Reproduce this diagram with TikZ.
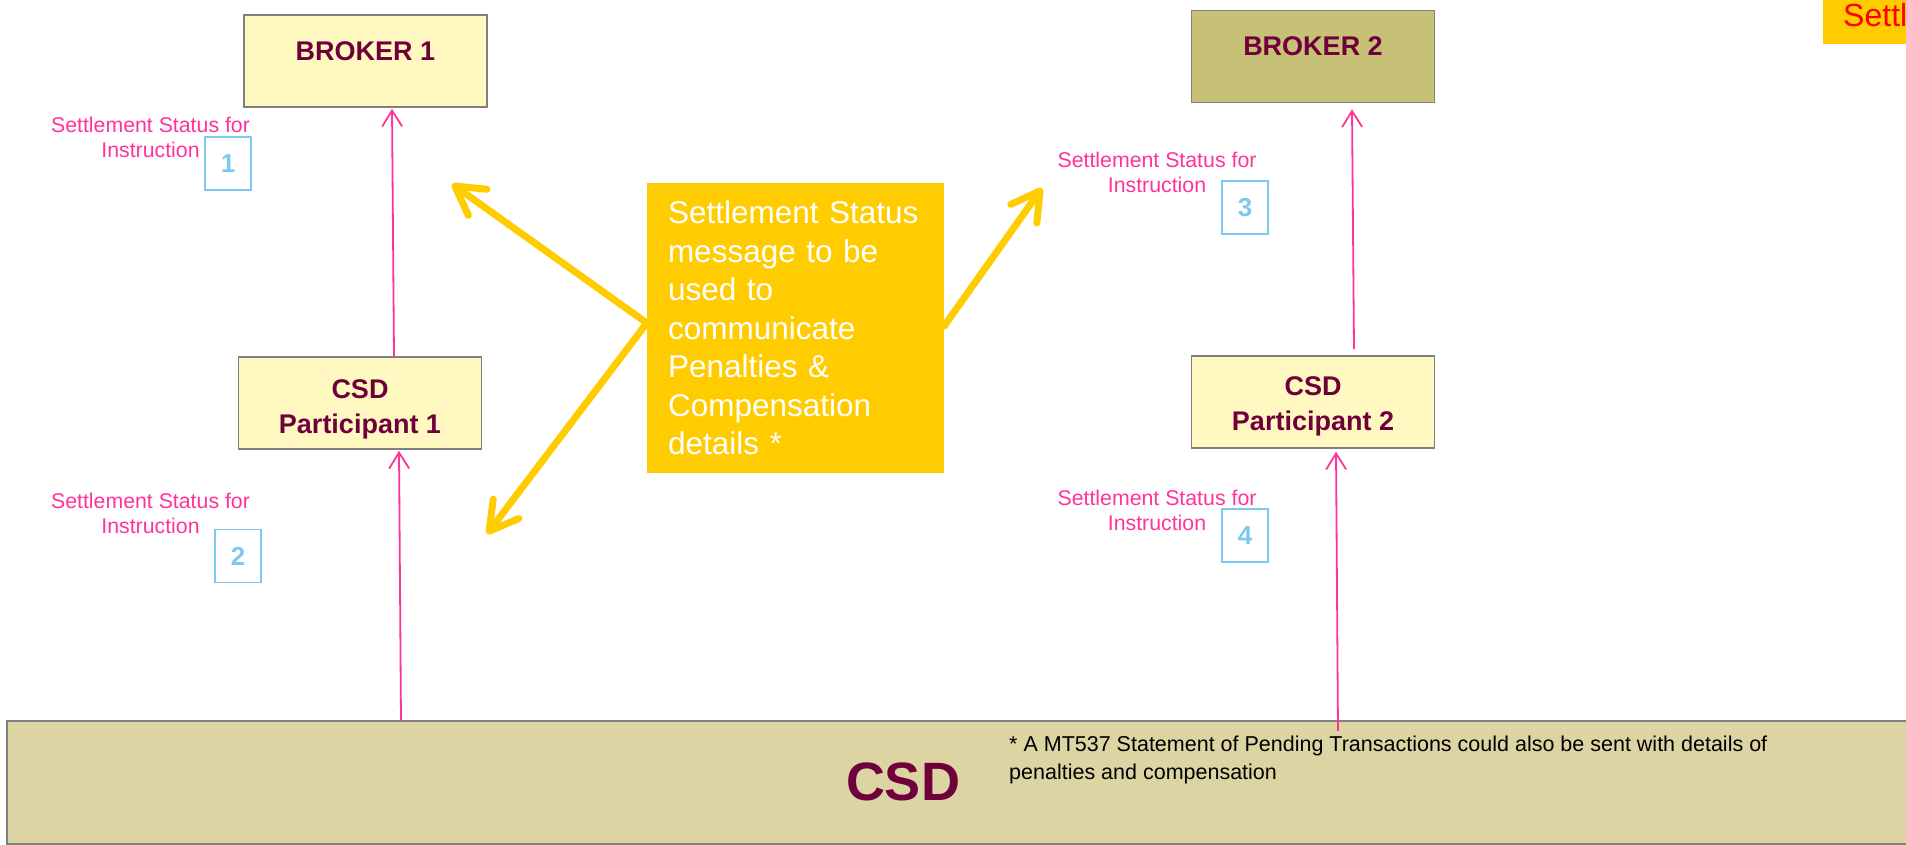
\documentclass[tikz,border=0pt]{standalone}
\usepackage{fontspec}
\setmainfont{Liberation Sans}
\usetikzlibrary{arrows.meta,calc}
\definecolor{paleyel}{HTML}{FFF8C0}
\definecolor{olivebox}{HTML}{C7C077}
\definecolor{csdfill}{HTML}{DCD5A3}
\definecolor{maroon}{HTML}{70003C}
\definecolor{hotpink}{HTML}{FF3399}
\definecolor{lblue}{HTML}{7DC8F0}
\definecolor{gold}{HTML}{FFCC00}
\definecolor{boxgray}{HTML}{808080}
\begin{document}
\begin{tikzpicture}[x=1pt,y=-1pt,
  entity/.style={draw=boxgray, line width=1.6pt, fill=paleyel, minimum width=243pt,
    minimum height=92pt, inner sep=0pt, text=maroon, font=\fontsize{27}{35}\selectfont\bfseries},
  numbox/.style={draw=lblue, line width=1.8pt, minimum width=46pt, minimum height=53pt,
    inner sep=0pt, text=lblue, font=\fontsize{26}{30}\selectfont\bfseries},
  statlbl/.style={text=hotpink, font=\fontsize{21.3}{25}\selectfont, align=center, inner sep=0pt},
  pinkarrow/.style={draw=hotpink, line width=1.8pt, -{Straight Barb[length=16pt,width=20pt]}},
  yelarrow/.style={draw=gold, line width=7pt, line cap=round,
    -{Straight Barb[length=28pt,width=32pt,line cap=round,line join=round]}}
]
\useasboundingbox (0,0) rectangle (1906,844);

% top-right partial banner
\node[fill=gold, minimum width=100pt, minimum height=44pt, anchor=north west, inner sep=0pt] (settl) at (1823,0) {};
\node[anchor=base west, text=red, font=\fontsize{32}{38}\selectfont, inner sep=0pt] (settltxt) at (1843,26) {Settl};

% CSD bar
\node[draw=boxgray, fill=csdfill, line width=2pt, minimum width=1914pt, minimum height=123pt,
  anchor=north west, inner sep=0pt] (csd) at (6,720) {};
\node[text=maroon, font=\fontsize{54}{60}\selectfont\bfseries, inner sep=0pt] (csdtxt) at (903,782) {CSD};
\node[anchor=north west, align=left, inner sep=0pt, font=\fontsize{21.5}{28}\selectfont] (foot) at (1009,736)
  {* A MT537 Statement of Pending Transactions could also be sent with details of\\penalties and compensation};

% entities
\node[entity, text height=20pt, text depth=22pt] (b1) at (365.5,61) {BROKER 1};
\node[entity, fill=olivebox, text height=20pt, text depth=23pt] (b2) at (1313,56.5) {BROKER 2};
\node[entity, align=center] (p1) at (360,403) {\rule{0pt}{32pt}CSD\\Participant 1};
\node[entity, align=center] (p2) at (1313,402) {\rule{0pt}{28pt}CSD\\Participant 2};

% status labels
\node[statlbl] (l1) at (150.5,137) {Settlement Status for\\Instruction};
\node[statlbl] (l2) at (150.5,513.5) {Settlement Status for\\Instruction};
\node[statlbl] (l3) at (1157,172) {Settlement Status for\\Instruction};
\node[statlbl] (l4) at (1157,510) {Settlement Status for\\Instruction};
\node[numbox] (n1) at (228,163.5) {1};
\node[numbox] (n2) at (238,556) {2};
\node[numbox] (n3) at (1245,207.5) {3};
\node[numbox] (n4) at (1245,535.5) {4};

% pink connectors
\draw[pinkarrow] ($(p1.north)+(34,0)$) -- ($(b1.south)+(26.5,1)$);
\draw[pinkarrow] ($(csd.north west)+(395,0)$) -- ($(p1.south)+(39,1)$);
\draw[pinkarrow] ($(p2.north)+(41,-6)$) -- ($(b2.south)+(39,6)$);
\draw[pinkarrow] ($(csd.north west)+(1332,11)$) -- ($(p2.south)+(23,3)$);

% central message box
\node[fill=gold, minimum width=297pt, minimum height=290pt, text width=255pt, inner xsep=21pt,
  inner ysep=0pt, align=left, text=white, font=\fontsize{31.5}{38.5}\selectfont] (msg) at (795.5,328)
  {Settlement Status\\message to be\\used to\\communicate\\Penalties \&\\Compensation\\details *};

\coordinate (t1) at (452,184);
\coordinate (t2) at (487,534);
\coordinate (t3) at (1042,188);
\draw[yelarrow] ($(msg.west)+(0,-5)$) -- (t1);
\draw[yelarrow] ($(msg.west)+(0,-5)$) -- (t2);
\draw[yelarrow] ($(msg.east)+(0,-2)$) -- (t3);
\end{tikzpicture}
\end{document}
